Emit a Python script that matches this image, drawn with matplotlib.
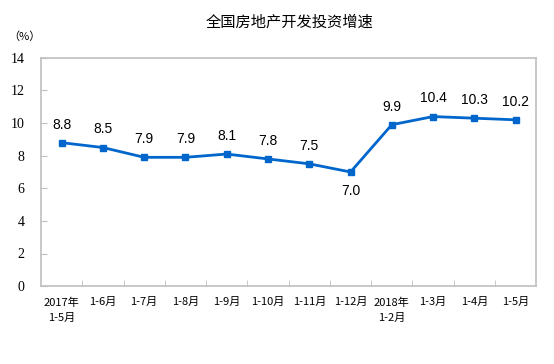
import matplotlib.pyplot as plt

plt.rcParams['font.family'] = ['Noto Sans CJK SC', 'DejaVu Sans']

categories = ['2017年\n1-5月', '1-6月', '1-7月', '1-8月', '1-9月', '1-10月',
              '1-11月', '1-12月', '2018年\n1-2月', '1-3月', '1-4月', '1-5月']
values = [8.8, 8.5, 7.9, 7.9, 8.1, 7.8, 7.5, 7.0, 9.9, 10.4, 10.3, 10.2]
yticks = [0, 2, 4, 6, 8, 10, 12, 14]

line_color = '#0066CC'
spine_color = '#BFBFBF'

fig = plt.figure(figsize=(5.54, 3.64), dpi=100)
ax = fig.add_axes([0.074, 0.214, 0.894, 0.627])

x = list(range(len(values)))
ax.plot(x, values, color=line_color, linewidth=2, marker='s', markersize=5)

# étiquettes des valeurs
for xi, v in zip(x, values):
    if v == 7.0:
        ax.annotate(f'{v:.1f}', (xi, v), xytext=(0, -9), textcoords='offset points',
                    ha='center', va='top', fontsize=10, family='Liberation Sans')
    else:
        ax.annotate(f'{v:.1f}', (xi, v), xytext=(0, 8), textcoords='offset points',
                    ha='center', va='bottom', fontsize=10, family='Liberation Sans')

ax.set_xlim(-0.5, len(values) - 0.5)
ax.set_ylim(0, 14)
ax.set_yticks(yticks)
ax.set_yticklabels([str(t) for t in yticks], family='Liberation Serif', fontsize=10)

ax.set_xticks(x)
ax.set_xticklabels(categories, fontsize=8, linespacing=1.6)
ax.tick_params(axis='x', length=0, pad=8)
ax.set_xticks([i + 0.5 for i in x[:-1]], minor=True)
ax.tick_params(axis='x', which='minor', direction='in', length=4, color=spine_color)
ax.tick_params(axis='y', direction='in', length=4, color=spine_color, pad=12)

for s in ax.spines.values():
    s.set_color(spine_color)
    s.set_linewidth(1.2)

fig.text(0.523, 0.94, '全国房地产开发投资增速', ha='center', va='center', fontsize=11)
fig.text(0.045, 0.90, '（%）', ha='center', va='center', fontsize=8)

fig.savefig('out.png', dpi=100)
